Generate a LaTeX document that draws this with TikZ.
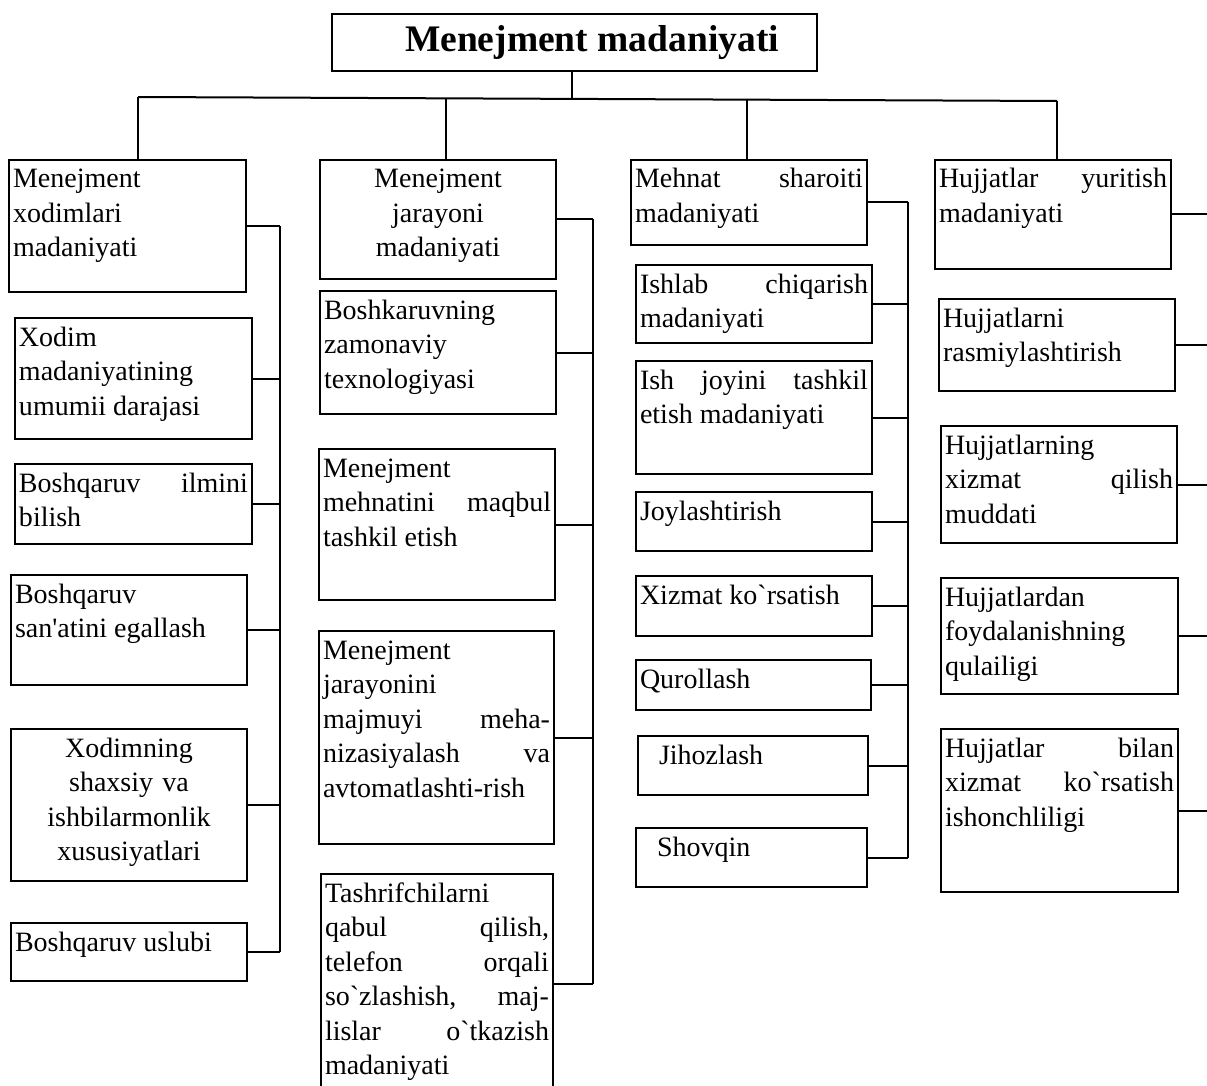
\documentclass[tikz,border=0pt]{standalone}
\usepackage{fontspec}
\setmainfont{Liberation Serif}[Ligatures=TeXOff]
\usepackage{tikz}

\begin{document}
\begin{tikzpicture}
    [
    x = 1pt, y = -1pt,
    line width              = 2pt,
    every node/.style       = {font=\fontsize{28}{34.5}\selectfont, line width=2pt},
    cell/.style 2 args      = {draw, anchor=north west, inner xsep=4pt, inner ysep=0pt,
                               text width=#1, text height=28pt, text depth=#2, align=justify},
    mid/.style              = {align=center},
    heading/.style          = {draw, anchor=north west, minimum width=485pt, minimum height=57pt,
                               font=\bfseries\fontsize{37.5}{40}\selectfont}
    ]
    \useasboundingbox (0,0) rectangle (1207,1086);
    \clip (0,0) rectangle (1207,1086);

    \node [heading] (title) at (331,13) {\hspace*{35pt}Menejment madaniyati};

    % first column
    \node [cell={229pt}{104pt}] (xod) at (8,159) {Menejment\\ xodimlari\\ madaniyati};
    \node [cell={229pt}{93pt}] (xumum) at (14,317) {Xodim\\ madaniyatining\\ umumii darajasi};
    \node [cell={229pt}{52pt}] (ilm) at (14,463) {Boshqaruv ilmini\linebreak bilish};
    \node [cell={228pt}{82pt}] (sanat) at (10,574) {Boshqaruv\\ san'atini egallash};
    \node [cell={228pt}{124pt}, mid] (xshax) at (10,728) {Xodimning\\ shaxsiy va\\ ishbilarmonlik\\ xususiyatlari};
    \node [cell={228pt}{30pt}] (usl) at (10,922) {Boshqaruv uslubi};

    % second column
    \node [cell={228pt}{91pt}, mid] (jar) at (319,159) {Menejment\\ jarayoni\\ madaniyati};
    \node [cell={228pt}{95pt}] (tex) at (319,290) {Boshkaruvning\\ zamonaviy\\ texnologiyasi};
    \node [cell={228pt}{123pt}] (meh) at (318,448) {Menejment\\ mehnatini maqbul\linebreak tashkil etish};
    \node [cell={227pt}{185pt}] (avt) at (318,630) {Menejment\\ jarayonini\\ majmuyi meha-\linebreak nizasiyalash va\linebreak avtomatlashti-rish};
    \node [cell={224pt}{192pt}] (tash) at (320,873) {Tashrifchilarni\\ qabul qilish,\linebreak telefon orqali\linebreak so`zlashish, maj-\linebreak lislar o`tkazish\linebreak madaniyati};

    % third column
    \node [cell={228pt}{57pt}] (mehs) at (630,159) {Mehnat sharoiti\linebreak madaniyati};
    \node [cell={228pt}{50pt}] (ishl) at (635,264) {Ishlab chiqarish\linebreak madaniyati};
    \node [cell={228pt}{85pt}] (ishj) at (635,360) {Ish joyini tashkil\linebreak etish madaniyati};
    \node [cell={228pt}{31pt}] (joyl) at (635,491) {Joylashtirish};
    \node [cell={228pt}{32pt}] (xizm) at (635,575) {Xizmat ko`rsatish};
    \node [cell={227pt}{22pt}] (qur) at (635,659) {Qurollash};
    \node [cell={222pt}{31pt}] (jih) at (637,735) {\hspace*{17pt}Jihozlash};
    \node [cell={223pt}{31pt}] (shov) at (635,827) {\hspace*{17pt}Shovqin};

    % fourth column
    \node [cell={228pt}{81pt}] (hyur) at (934,159) {Hujjatlar yuritish\linebreak madaniyati};
    \node [cell={228pt}{64pt}] (hras) at (938,298) {Hujjatlarni\\ rasmiylashtirish};
    \node [cell={228pt}{89pt}] (hmud) at (940,425) {Hujjatlarning\\ xizmat qilish\linebreak muddati};
    \node [cell={229pt}{88pt}] (hfoy) at (940,577) {Hujjatlardan\\ foydalanishning\\ qulailigi};
    \node [cell={229pt}{135pt}] (hish) at (940,728) {Hujjatlar bilan\linebreak xizmat ko`rsatish\linebreak ishonchliligi};

    % top bus
    \coordinate (busl) at (138,97);
    \coordinate (busr) at (1057,101);
    \coordinate (stem) at (572,99);
    \coordinate (drop2) at (446,98);
    \coordinate (drop3) at (747,100);
    \draw (busl) -- (busr);
    \draw (title.south -| stem) -- (stem);
    \draw (busl) -- (busl |- xod.north);
    \draw (drop2) -- (drop2 |- jar.north);
    \draw (drop3) -- (drop3 |- mehs.north);
    \draw (busr) -- (busr |- hyur.north);

    % side buses
    \coordinate (ca) at (280,0);
    \coordinate (cb) at (593,0);
    \coordinate (cc) at (908,0);
    \coordinate (cd) at (1215,0);
    \foreach \n in {xod,xumum,ilm,sanat,xshax,usl}
        \draw (\n.east) -- (\n.east -| ca);
    \draw (xod.east -| ca) -- (usl.east -| ca);
    \foreach \n in {jar,tex,meh,avt,tash}
        \draw (\n.east) -- (\n.east -| cb);
    \draw (jar.east -| cb) -- (tash.east -| cb);
    \foreach \n in {mehs,ishl,ishj,joyl,xizm,qur,jih,shov}
        \draw (\n.east) -- (\n.east -| cc);
    \draw (mehs.east -| cc) -- (shov.east -| cc);
    \foreach \n in {hyur,hras,hmud,hfoy,hish}
        \draw (\n.east) -- (\n.east -| cd);
\end{tikzpicture}
\end{document}
